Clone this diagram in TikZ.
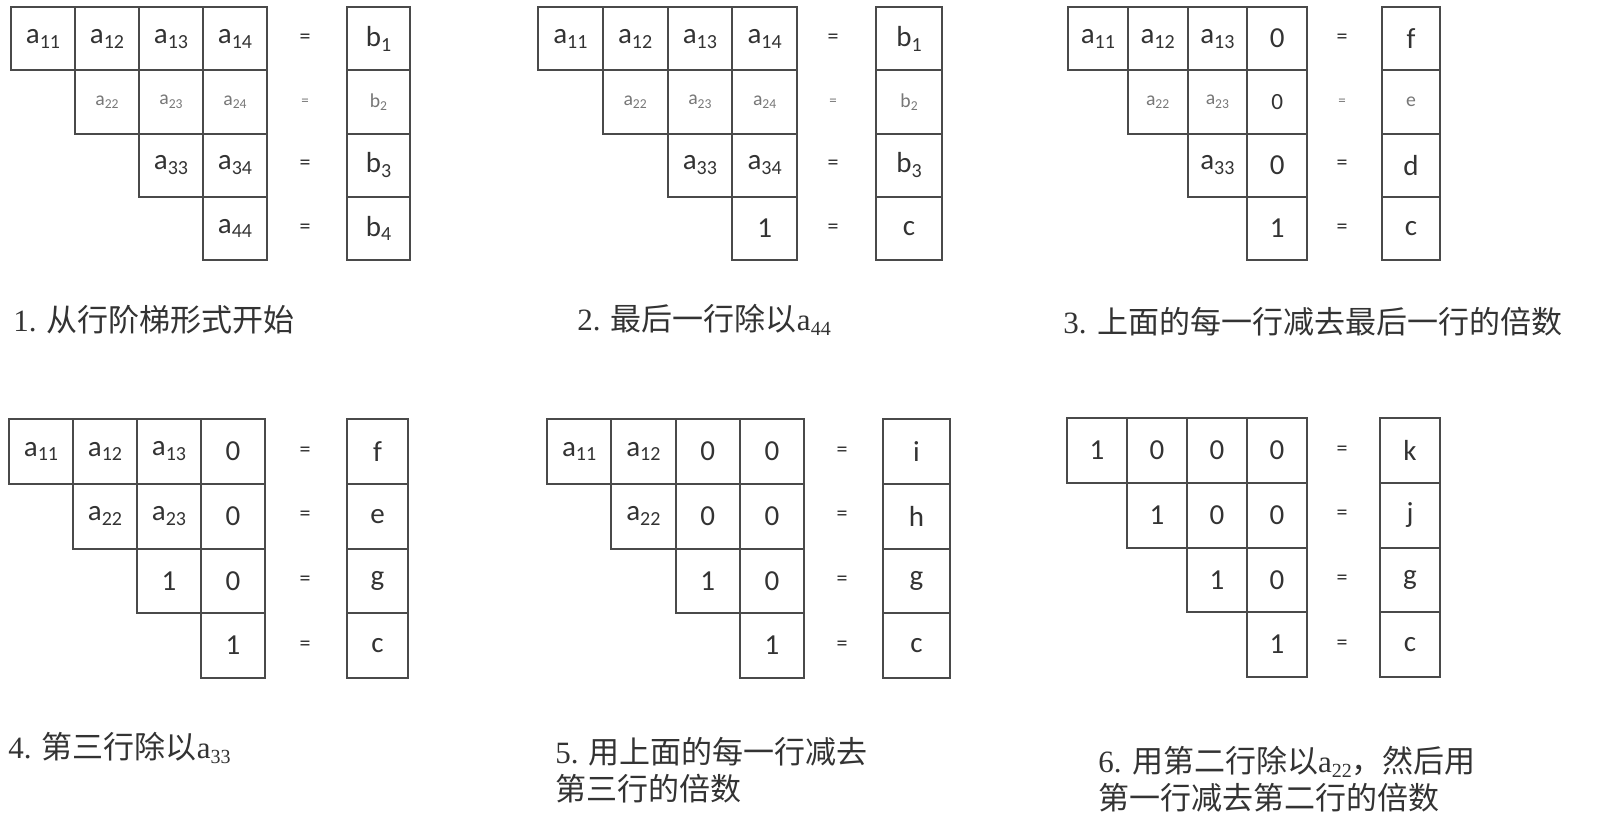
\documentclass[tikz,border=0pt]{standalone}
\usepackage{fontspec}
\setmainfont{Liberation Serif}
\newfontfamily\cjk{Noto Sans CJK SC}
\newfontfamily\calf{Carlito}
\definecolor{ln}{HTML}{4A4A4A}
\definecolor{tx}{HTML}{333333}
\definecolor{fa}{HTML}{777777}
\newcommand\sbs[1]{\raisebox{-0.35ex}{\fontsize{10pt}{10pt}\selectfont #1}}
\newcommand\ent[2]{#1\sbs{#2}}
\newcommand\faint[1]{\scalebox{0.68}{\color{fa}#1}}
\newcommand\csub[1]{\raisebox{-0.35ex}{\fontsize{10pt}{10pt}\selectfont #1}}
\newcommand\setp[7]{\def\PX{#1}\def\PY{#2}\def\PW{#3}\def\PH{#4}\def\PE{#5}\def\PB{#6}\def\PBW{#7}}
\tikzset{
  cell/.style={draw=ln, line width=1pt, inner sep=0pt, text=tx,
    minimum width={\PW*0.5pt}, minimum height={\PH*0.5pt},
    font=\calf\fontsize{14.5pt}{16pt}\selectfont},
  bcell/.style={cell, minimum width={\PBW*0.5pt}},
  eqs/.style={inner sep=0pt, text=tx, font=\calf\fontsize{11pt}{11pt}\selectfont},
  captxt/.style={inner sep=0pt, anchor=west, text=tx, align=left,
    font=\fontsize{15.5pt}{18.5pt}\selectfont},
}
\begin{document}
\begin{tikzpicture}[x=0.5pt,y=-0.5pt]
\fill[white] (0,0) rectangle (1604,820);
\useasboundingbox (0,0) rectangle (1604,820);

% ---------- panel 1
\setp{11}{7}{64}{63.25}{305}{347}{63}
\foreach \i/\j/\t in {0/0/\ent{a}{11},0/1/\ent{a}{12},0/2/\ent{a}{13},0/3/\ent{a}{14},
  1/1/\faint{\ent{a}{22}},1/2/\faint{\ent{a}{23}},1/3/\faint{\ent{a}{24}},
  2/2/\ent{a}{33},2/3/\ent{a}{34},3/3/\ent{a}{44}}
  \node[cell] (p1-\i\j) at ({\PX+(\j+0.5)*\PW},{\PY+(\i+0.5)*\PH}) {\t};
\foreach \i/\e/\b in {0/=/\ent{b}{1},1/\faint{=}/\faint{\ent{b}{2}},2/=/\ent{b}{3},3/=/\ent{b}{4}}{
  \node[eqs] (p1-e\i) at (\PE,{\PY+(\i+0.5)*\PH}) {\e};
  \node[bcell] (p1-b\i) at ({\PB+\PBW/2},{\PY+(\i+0.5)*\PH}) {\b};}
\node[captxt] (cap1) at (13,320) {1. {\cjk 从行阶梯形式开始}};

% ---------- panel 2
\setp{538}{7}{64.75}{63.25}{833}{876}{66}
\foreach \i/\j/\t in {0/0/\ent{a}{11},0/1/\ent{a}{12},0/2/\ent{a}{13},0/3/\ent{a}{14},
  1/1/\faint{\ent{a}{22}},1/2/\faint{\ent{a}{23}},1/3/\faint{\ent{a}{24}},
  2/2/\ent{a}{33},2/3/\ent{a}{34},3/3/1}
  \node[cell] (p2-\i\j) at ({\PX+(\j+0.5)*\PW},{\PY+(\i+0.5)*\PH}) {\t};
\foreach \i/\e/\b in {0/=/\ent{b}{1},1/\faint{=}/\faint{\ent{b}{2}},2/=/\ent{b}{3},3/=/c}{
  \node[eqs] (p2-e\i) at (\PE,{\PY+(\i+0.5)*\PH}) {\e};
  \node[bcell] (p2-b\i) at ({\PB+\PBW/2},{\PY+(\i+0.5)*\PH}) {\b};}
\node[captxt] (cap2) at (577,320) {2. {\cjk 最后一行除以}a\csub{44}};

% ---------- panel 3
\setp{1068}{7}{59.75}{63.25}{1342}{1382}{58}
\foreach \i/\j/\t in {0/0/\ent{a}{11},0/1/\ent{a}{12},0/2/\ent{a}{13},0/3/0,
  1/1/\faint{\ent{a}{22}},1/2/\faint{\ent{a}{23}},1/3/\scalebox{0.8}{0},
  2/2/\ent{a}{33},2/3/0,3/3/1}
  \node[cell] (p3-\i\j) at ({\PX+(\j+0.5)*\PW},{\PY+(\i+0.5)*\PH}) {\t};
\foreach \i/\e/\b in {0/=/f,1/\faint{=}/\faint{e},2/=/d,3/=/c}{
  \node[eqs] (p3-e\i) at (\PE,{\PY+(\i+0.5)*\PH}) {\e};
  \node[bcell] (p3-b\i) at ({\PB+\PBW/2},{\PY+(\i+0.5)*\PH}) {\b};}
\node[captxt] (cap3) at (1063,322) {3. {\cjk 上面的每一行减去最后一行的倍数}};

% ---------- panel 4
\setp{9}{419}{64}{64.75}{305}{347}{61}
\foreach \i/\j/\t in {0/0/\ent{a}{11},0/1/\ent{a}{12},0/2/\ent{a}{13},0/3/0,
  1/1/\ent{a}{22},1/2/\ent{a}{23},1/3/0,
  2/2/1,2/3/0,3/3/1}
  \node[cell] (p4-\i\j) at ({\PX+(\j+0.5)*\PW},{\PY+(\i+0.5)*\PH}) {\t};
\foreach \i/\e/\b in {0/=/f,1/=/e,2/=/g,3/=/c}{
  \node[eqs] (p4-e\i) at (\PE,{\PY+(\i+0.5)*\PH}) {\e};
  \node[bcell] (p4-b\i) at ({\PB+\PBW/2},{\PY+(\i+0.5)*\PH}) {\b};}
\node[captxt] (cap4) at (8,748) {4. {\cjk 第三行除以}a\csub{33}};

% ---------- panel 5
\setp{547}{419}{64.25}{64.75}{842}{883}{67}
\foreach \i/\j/\t in {0/0/\ent{a}{11},0/1/\ent{a}{12},0/2/0,0/3/0,
  1/1/\ent{a}{22},1/2/0,1/3/0,
  2/2/1,2/3/0,3/3/1}
  \node[cell] (p5-\i\j) at ({\PX+(\j+0.5)*\PW},{\PY+(\i+0.5)*\PH}) {\t};
\foreach \i/\e/\b in {0/=/i,1/=/h,2/=/g,3/=/c}{
  \node[eqs] (p5-e\i) at (\PE,{\PY+(\i+0.5)*\PH}) {\e};
  \node[bcell] (p5-b\i) at ({\PB+\PBW/2},{\PY+(\i+0.5)*\PH}) {\b};}
\node[captxt] (cap5) at (555,770) {5. {\cjk 用上面的每一行减去}\\{\cjk 第三行的倍数}};

% ---------- panel 6
\setp{1067}{418}{60}{64.75}{1342}{1380}{60}
\foreach \i/\j/\t in {0/0/1,0/1/0,0/2/0,0/3/0,
  1/1/1,1/2/0,1/3/0,
  2/2/1,2/3/0,3/3/1}
  \node[cell] (p6-\i\j) at ({\PX+(\j+0.5)*\PW},{\PY+(\i+0.5)*\PH}) {\t};
\foreach \i/\e/\b in {0/=/k,1/=/j,2/=/g,3/=/c}{
  \node[eqs] (p6-e\i) at (\PE,{\PY+(\i+0.5)*\PH}) {\e};
  \node[bcell] (p6-b\i) at ({\PB+\PBW/2},{\PY+(\i+0.5)*\PH}) {\b};}
\node[captxt] (cap6) at (1098,779) {6. {\cjk 用第二行除以}a\csub{22}{\cjk ，然后用}\\{\cjk 第一行减去第二行的倍数}};
\end{tikzpicture}
\end{document}
